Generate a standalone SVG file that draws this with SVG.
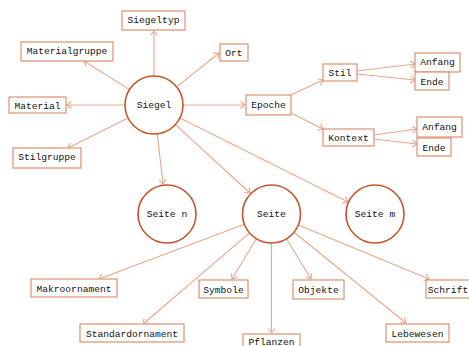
<svg xmlns="http://www.w3.org/2000/svg" width="469" height="346" viewBox="0 0 469 346">
<defs>
<style>
.c{fill:#fff;stroke:#c4552a;stroke-width:1.6}
.b{fill:#fff;stroke:#dc9273;stroke-width:1.2}
.t{font-family:"Liberation Mono","DejaVu Sans Mono",monospace;font-size:9.6px;fill:#111;text-anchor:middle}
#edges line{stroke:#e6a88c;stroke-width:1.1;fill:none;marker-end:url(#ah)}
</style>
<marker id="ah" markerUnits="userSpaceOnUse" markerWidth="10" markerHeight="10" viewBox="-6 -5 7 10" refX="0" refY="0" orient="auto" overflow="visible">
<path d="M-4.5,-3.5 Q-1.2,-1 0,0 Q-1.2,1 -4.5,3.5" fill="none" stroke="#e6a88c" stroke-width="1.1"/>
</marker>
</defs>
<rect width="469" height="346" fill="#fff"/>
<g id="edges">
<line x1="154" y1="76" x2="154" y2="31"/>
<line x1="129.5" y1="89.6" x2="84" y2="61"/>
<line x1="176.7" y1="86.9" x2="219" y2="53"/>
<line x1="125" y1="105" x2="67" y2="105"/>
<line x1="128.1" y1="118" x2="68" y2="148"/>
<line x1="183" y1="105" x2="245" y2="105"/>
<line x1="157.3" y1="133.8" x2="163" y2="184"/>
<line x1="175.4" y1="124.6" x2="250" y2="193"/>
<line x1="179.9" y1="118" x2="348" y2="202"/>
<line x1="291" y1="95" x2="323" y2="80"/>
<line x1="291" y1="113" x2="323" y2="129"/>
<line x1="357" y1="71" x2="415" y2="64"/>
<line x1="357" y1="74" x2="415" y2="80"/>
<line x1="374" y1="135" x2="417" y2="129"/>
<line x1="374" y1="139" x2="417" y2="144"/>
<line x1="244.4" y1="224.2" x2="99" y2="279"/>
<line x1="249.5" y1="232.9" x2="143" y2="324"/>
<line x1="256.4" y1="238.8" x2="232" y2="279"/>
<line x1="271.5" y1="243" x2="271.5" y2="333"/>
<line x1="286.6" y1="238.8" x2="311" y2="279"/>
<line x1="294" y1="232.3" x2="406" y2="323"/>
<line x1="298.3" y1="225.1" x2="429" y2="279"/>
</g>
<g id="siegel"><circle class="c" cx="154" cy="105" r="29"/><text class="t" x="154" y="108">Siegel</text></g>
<g id="seite-n"><circle class="c" cx="167" cy="214" r="29"/><text class="t" x="167" y="217">Seite n</text></g>
<g id="seite"><circle class="c" cx="271.5" cy="214" r="29"/><text class="t" x="271.5" y="217">Seite</text></g>
<g id="seite-m"><circle class="c" cx="375" cy="214" r="29"/><text class="t" x="375" y="217">Seite m</text></g>
<g id="siegeltyp"><rect class="b" x="122" y="11" width="63" height="19"/><text class="t" x="153.5" y="23">Siegeltyp</text></g>
<g id="materialgruppe"><rect class="b" x="21" y="42" width="92" height="19"/><text class="t" x="67" y="54">Materialgruppe</text></g>
<g id="ort"><rect class="b" x="220" y="44" width="28" height="17"/><text class="t" x="234" y="56">Ort</text></g>
<g id="material"><rect class="b" x="9" y="97" width="57" height="16"/><text class="t" x="37.5" y="109">Material</text></g>
<g id="stilgruppe"><rect class="b" x="13" y="148" width="68" height="20"/><text class="t" x="47" y="160">Stilgruppe</text></g>
<g id="epoche"><rect class="b" x="246" y="95" width="45" height="20"/><text class="t" x="268.5" y="107.5">Epoche</text></g>
<g id="stil"><rect class="b" x="323" y="64" width="34" height="17"/><text class="t" x="340" y="76">Stil</text></g>
<g id="kontext"><rect class="b" x="323" y="129" width="51" height="17"/><text class="t" x="348.5" y="141">Kontext</text></g>
<g id="anfang1"><rect class="b" x="415" y="53" width="45" height="19"/><text class="t" x="437.5" y="65">Anfang</text></g>
<g id="ende1"><rect class="b" x="415" y="72" width="34" height="18"/><text class="t" x="432" y="84.5">Ende</text></g>
<g id="anfang2"><rect class="b" x="417" y="117" width="45" height="20"/><text class="t" x="439.5" y="129.5">Anfang</text></g>
<g id="ende2"><rect class="b" x="417" y="138" width="34" height="18"/><text class="t" x="434" y="150.5">Ende</text></g>
<g id="makroornament"><rect class="b" x="31" y="279" width="86" height="18"/><text class="t" x="74" y="291.5">Makroornament</text></g>
<g id="standardornament"><rect class="b" x="80" y="324" width="104" height="18"/><text class="t" x="132" y="336.5">Standardornament</text></g>
<g id="symbole"><rect class="b" x="199" y="280" width="49" height="18"/><text class="t" x="223.5" y="292.5">Symbole</text></g>
<g id="objekte"><rect class="b" x="293" y="280" width="51" height="19"/><text class="t" x="318.5" y="292.5">Objekte</text></g>
<g id="schrift"><rect class="b" x="426" y="280" width="51" height="18"/><text class="t" x="448" y="292.5">Schrift</text></g>
<g id="lebewesen"><rect class="b" x="386" y="324" width="63" height="18"/><text class="t" x="417.5" y="336.5">Lebewesen</text></g>
<g id="pflanzen"><rect class="b" x="243" y="334" width="57" height="20"/><text class="t" x="271.5" y="344.5">Pflanzen</text></g>
</svg>
